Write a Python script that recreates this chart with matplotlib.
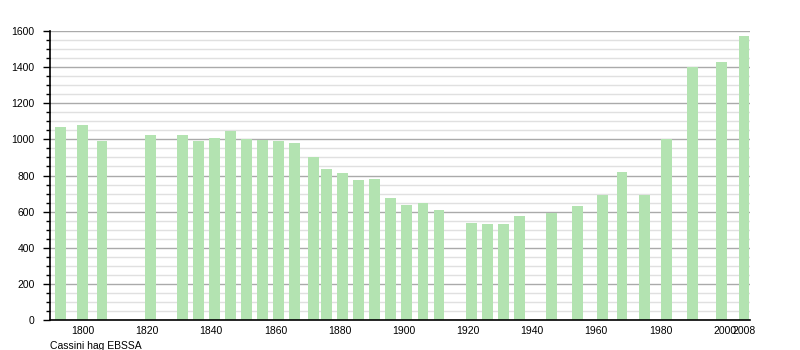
"""
Population bar chart (Cassini / EHESS style), saved to out.png
"""
import matplotlib
matplotlib.use("Agg")
import matplotlib.pyplot as plt
from matplotlib.ticker import MultipleLocator

# census years (bar positions) and population
years = [1793, 1800, 1806, 1821, 1831, 1836, 1841, 1846, 1851, 1856,
         1861, 1866, 1872, 1876, 1881, 1886, 1891, 1896, 1901, 1906,
         1911, 1921, 1926, 1931, 1936, 1946, 1954, 1962, 1968, 1975,
         1982, 1990, 1999, 2006]
population = [1068, 1080, 991, 1024, 1024, 991, 1008, 1047, 1002, 998,
              991, 980, 902, 836, 814, 775, 781, 675, 637, 648,
              609, 537, 531, 531, 576, 592, 631, 692, 820, 692,
              1002, 1401, 1429, 1573]

tick_pos = [1800, 1820, 1840, 1860, 1880, 1900, 1920, 1940, 1960, 1980, 2000, 2006]
tick_labels = ["1800", "1820", "1840", "1860", "1880", "1900", "1920",
               "1940", "1960", "1980", "2000", "2008"]
source = "Cassini hag EBSSA"

BAR = "#b3e3b1"


def main():
    plt.rcParams["font.family"] = ["Liberation Sans", "DejaVu Sans"]
    fig = plt.figure(figsize=(8, 3.5), dpi=100)
    ax = fig.add_axes([0.0625, 0.0857, 0.8755, 0.8257])

    ax.bar(years, population, width=3.4, color=BAR, zorder=3)

    ax.set_xlim(1789.8, 2008.0)
    ax.set_ylim(0, 1600)

    ax.yaxis.set_major_locator(MultipleLocator(200))
    ax.yaxis.set_minor_locator(MultipleLocator(50))
    ax.grid(axis="y", which="minor", color="#e0e0e0", linewidth=1, zorder=1)
    ax.grid(axis="y", which="major", color="#aaaaaa", linewidth=1, zorder=2)

    ax.set_xticks(tick_pos)
    ax.set_xticklabels(tick_labels)
    ax.tick_params(axis="x", length=0, labelsize=7.5, pad=4)
    ax.tick_params(axis="y", which="major", length=5, width=1, labelsize=7.5, pad=6)
    ax.tick_params(axis="y", which="minor", length=3, width=1)

    for s in ["top", "right"]:
        ax.spines[s].set_visible(False)
    for s in ["left", "bottom"]:
        ax.spines[s].set_color("black")
        ax.spines[s].set_linewidth(1.2)
        ax.spines[s].set_zorder(4)

    fig.text(50 / 800, 1 - 346 / 350, source, fontsize=7.5, va="center", ha="left")

    fig.savefig("out.png", dpi=100)
    plt.close(fig)


if __name__ == "__main__":
    main()
